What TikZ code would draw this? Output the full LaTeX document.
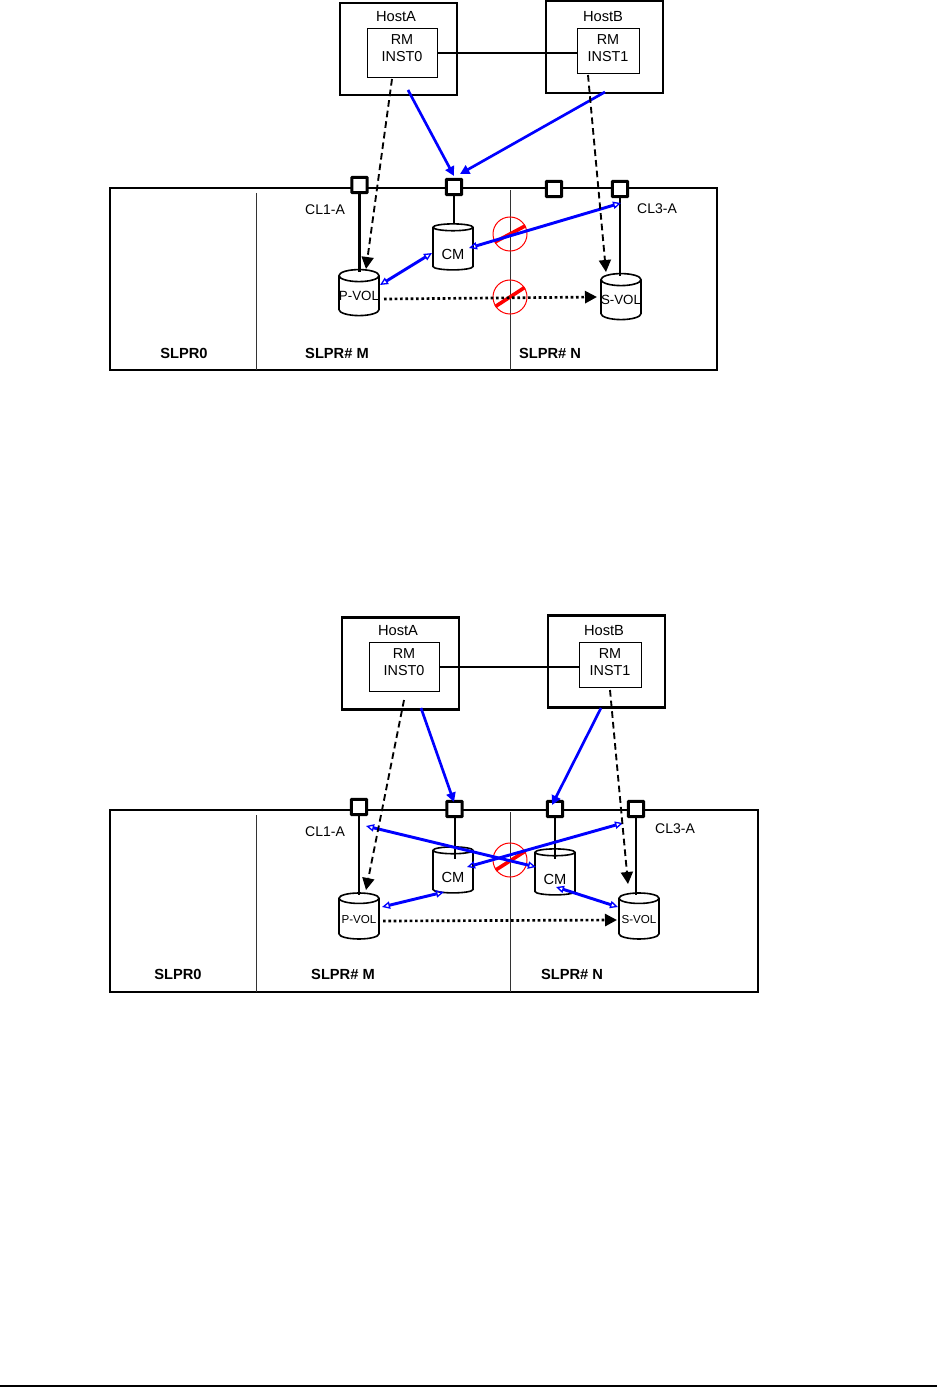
\documentclass[tikz,border=0pt]{standalone}
\usepackage{fontspec}
\setmainfont{Liberation Sans}
\usetikzlibrary{positioning,arrows.meta,shapes.geometric}

\begin{document}
\begin{tikzpicture}[
    x=0.75pt,
    y=-0.75pt,
    host/.style={draw, line width=1.9pt, minimum width=87.75pt, minimum height=69pt, inner sep=0pt},
    hostlabel/.style={inner sep=0pt, font=\fontsize{11}{13}\selectfont},
    inst/.style={draw, line width=0.6pt, align=center, inner sep=0pt, text depth=6pt, font=\fontsize{10.8}{12.7}\selectfont},
    port/.style={draw, fill=white, line width=2.3pt, rounded corners=0.5pt, minimum size=11.5pt, inner sep=0pt},
    vol/.style={draw, line width=1.2pt, fill=white, cylinder, shape border rotate=90, aspect=0.3,
        minimum width=30pt, minimum height=34.5pt, inner sep=0pt, font=\fontsize{10}{12}\selectfont},
    cachevol/.style={vol, text height=16pt, font=\fontsize{11}{13}\selectfont},
    smallvol/.style={vol, font=\fontsize{8.7}{10}\selectfont},
    frame/.style={draw, line width=1.5pt, inner sep=0pt},
    slpr/.style={inner sep=0pt, font=\fontsize{11}{13}\selectfont\bfseries},
    portname/.style={inner sep=0pt, font=\fontsize{10.5}{12}\selectfont},
    nosign/.style={draw=red, circle, line width=0.75pt, minimum size=25.5pt, inner sep=0pt},
    nobar/.style={draw=red, line width=2.7pt},
    wire/.style={line width=1.9pt},
    thinwire/.style={line width=1.5pt},
    split/.style={line width=0.6pt, draw=black!80},
    path/.style={-{Triangle[length=7pt,width=7pt]}, blue, line width=2pt},
    both/.style={{Triangle[open,length=6pt,width=5.5pt,line width=1pt]}-{Triangle[open,length=6pt,width=5.5pt,line width=1pt]}, blue, line width=2.2pt},
    cmd/.style={-{Triangle[length=9pt,width=9pt]}, dash pattern=on 5pt off 3pt, line width=1.4pt},
    copy/.style={-{Triangle[length=9pt,width=9pt]}, dash pattern=on 2pt off 2pt, line width=2pt}
]
\useasboundingbox (0,0) rectangle (937,1387);

% upper diagram
\node[frame, minimum width=455.25pt, minimum height=136.5pt] (boxA) at (413.5,279) {};
\coordinate (splitA1) at (256,193);
\coordinate (splitA1e) at (256,370);
\coordinate (splitA2) at (510,190);
\coordinate (splitA2e) at (510,370);
\draw[split] (splitA1) -- (splitA1e);
\draw[split] (splitA2) -- (splitA2e);

\node[host] (hostA) at (398.5,49) {};
\node[host] (hostB) at (604.5,47) {};
\node[hostlabel] (hostAlabel) at (396,17) {HostA};
\node[hostlabel] (hostBlabel) at (603,17) {HostB};
\node[inst, minimum width=52.5pt, minimum height=36.75pt] (rmA) at (402,52.5) {RM\\INST0};
\node[inst, text depth=3pt, minimum width=46.5pt, minimum height=33.75pt] (rmB) at (608,50.5) {RM\\INST1};
\coordinate (rmAe) at (437,53);
\coordinate (rmBe) at (577,53);
\draw[wire] (rmAe) -- (rmBe);

\node[port] (p1) at (359.5,185) {};
\node[port] (p2) at (454,187) {};
\node[port] (p3) at (554,189) {};
\node[port] (p4) at (620,189) {};
\node[portname] (cl1) at (325,210) {CL1-A};
\node[portname] (cl3) at (657,209) {CL3-A};

\node[cachevol] (cm) at (453,249) {CM};
\node[vol] (pvol) at (359,296) {P-VOL};
\node[vol] (svol) at (621,300) {S-VOL};
\coordinate (p1e) at (359.5,272);
\coordinate (p2e) at (454,224);
\coordinate (p4e) at (620,276);
\draw[wire] (p1) -- (p1e);
\draw[thinwire] (p2) -- (p2e);
\draw[wire] (p4) -- (p4e);

\node[nosign] (signA1) at (510,234) {};
\node[nosign] (signA2) at (510,297) {};
\draw[nobar] (signA1.208) -- (signA1.28);
\draw[nobar] (signA2.213) -- (signA2.33);

\coordinate (a1s) at (408,90);
\coordinate (a1e) at (454,176);
\coordinate (a2s) at (605,92);
\coordinate (a2e) at (460,174);
\draw[path] (a1s) -- (a1e);
\draw[path] (a2s) -- (a2e);
\coordinate (b1s) at (621,203);
\coordinate (b1e) at (469,248);
\coordinate (b2s) at (432,253);
\coordinate (b2e) at (380,285);
\draw[both] (b1s) -- (b1e);
\draw[both] (b2s) -- (b2e);
\coordinate (c1s) at (392,79);
\coordinate (c1e) at (366,269);
\coordinate (c2s) at (588,75);
\coordinate (c2e) at (606,272);
\draw[cmd] (c1s) -- (c1e);
\draw[cmd] (c2s) -- (c2e);
\coordinate (d1s) at (384,299);
\coordinate (d1e) at (597,297);
\draw[copy] (d1s) -- (d1e);

\node[slpr] (slprA0) at (184,353) {SLPR0};
\node[slpr] (slprAM) at (337,353) {SLPR\# M};
\node[slpr] (slprAN) at (550,353) {SLPR\# N};

% lower diagram
\node[frame, minimum width=486pt, minimum height=136.5pt] (boxB) at (434,901) {};
\coordinate (splitB1) at (256,815);
\coordinate (splitB1e) at (256,992);
\coordinate (splitB2) at (510,812);
\coordinate (splitB2e) at (510,992);
\draw[split] (splitB1) -- (splitB1e);
\draw[split] (splitB2) -- (splitB2e);

\node[host] (hostC) at (400.5,663.5) {};
\node[host] (hostD) at (606.5,661.5) {};
\node[hostlabel] (hostClabel) at (398,631) {HostA};
\node[hostlabel] (hostDlabel) at (604,631) {HostB};
\node[inst, minimum width=52.5pt, minimum height=36.75pt] (rmC) at (404,666.5) {RM\\INST0};
\node[inst, text depth=3pt, minimum width=46.5pt, minimum height=33.75pt] (rmD) at (610,664.5) {RM\\INST1};
\coordinate (rmCe) at (439,667);
\coordinate (rmDe) at (579,667);
\draw[wire] (rmCe) -- (rmDe);

\node[port] (q1) at (359,807) {};
\node[port] (q2) at (454.5,809) {};
\node[port] (q3) at (555,809) {};
\node[port] (q4) at (636,809) {};
\node[portname] (cl1b) at (325,832) {CL1-A};
\node[portname] (cl3b) at (675,829) {CL3-A};

\node[cachevol] (cm1) at (453,872) {CM};
\node[cachevol] (cm2) at (555,874) {CM};
\node[smallvol] (pvolb) at (359,919) {P-VOL};
\node[smallvol] (svolb) at (639,919) {S-VOL};
\coordinate (q1e) at (359,895);
\coordinate (q2e) at (454.5,859);
\coordinate (q3e) at (555,859);
\coordinate (q4e) at (636,895);
\draw[wire] (q1) -- (q1e);
\draw[thinwire] (q2) -- (q2e);
\draw[thinwire] (q3) -- (q3e);
\draw[wire] (q4) -- (q4e);

\node[nosign] (signB) at (510,860) {};
\draw[nobar] (signB.215) -- (signB.30);

\coordinate (e1s) at (421,708);
\coordinate (e1e) at (454,802);
\coordinate (e2s) at (601,708);
\coordinate (e2e) at (552,805);
\draw[path] (e1s) -- (e1e);
\draw[path] (e2s) -- (e2e);
\coordinate (f1s) at (366,826);
\coordinate (f1e) at (536,867);
\coordinate (f2s) at (623,823);
\coordinate (f2e) at (467,867);
\coordinate (f3s) at (382,907);
\coordinate (f3e) at (444,892);
\coordinate (f4s) at (556,887);
\coordinate (f4e) at (618,907);
\draw[both] (f1s) -- (f1e);
\draw[both] (f2s) -- (f2e);
\draw[both] (f3s) -- (f3e);
\draw[both] (f4s) -- (f4e);
\coordinate (g1s) at (404,700);
\coordinate (g1e) at (366,890);
\coordinate (g2s) at (610,690);
\coordinate (g2e) at (628,884);
\draw[cmd] (g1s) -- (g1e);
\draw[cmd] (g2s) -- (g2e);
\coordinate (h1s) at (383,921);
\coordinate (h1e) at (617,920);
\draw[copy] (h1s) -- (h1e);

\node[slpr] (slprB0) at (178,974) {SLPR0};
\node[slpr] (slprBM) at (343,974) {SLPR\# M};
\node[slpr] (slprBN) at (572,974) {SLPR\# N};

% page rule
\coordinate (ruleL) at (0,1386);
\coordinate (ruleR) at (937,1386);
\draw[line width=1.7pt] (ruleL) -- (ruleR);
\end{tikzpicture}
\end{document}
